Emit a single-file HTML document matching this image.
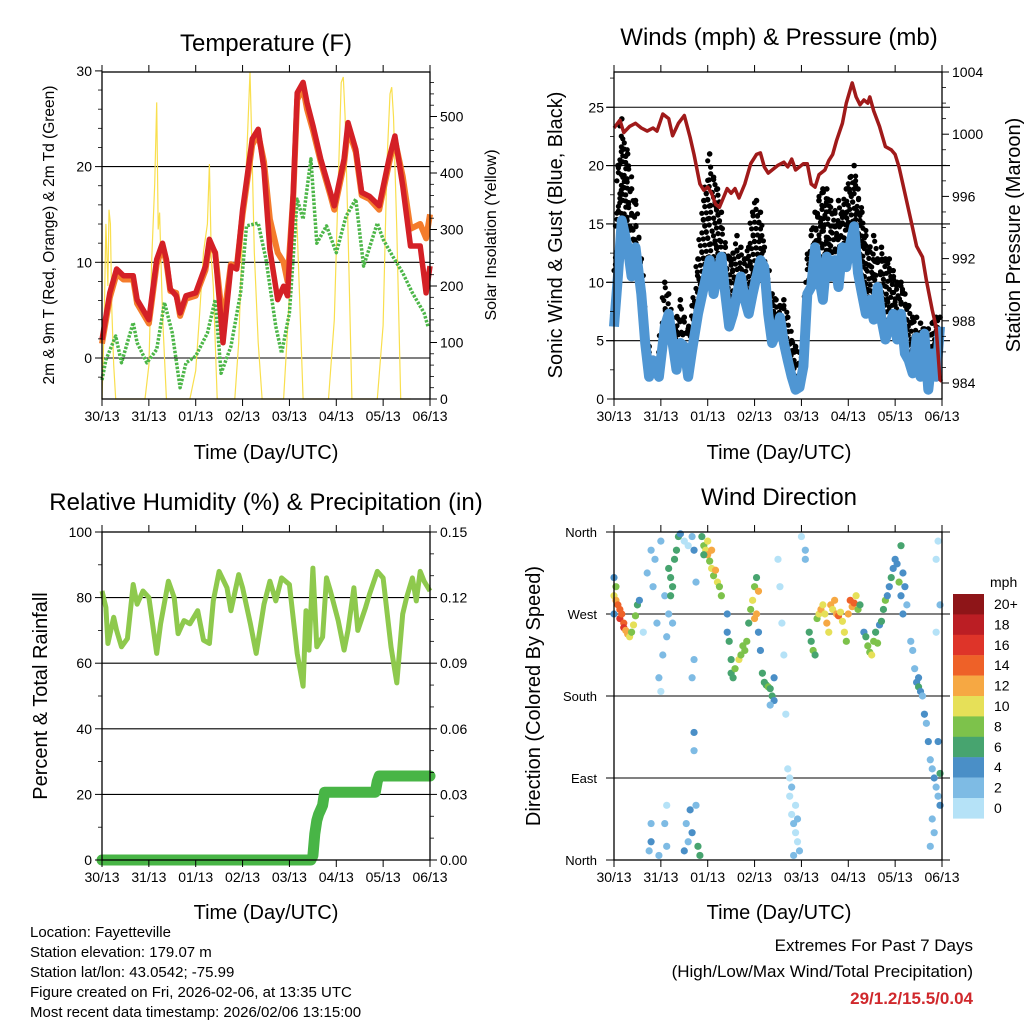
<!DOCTYPE html>
<html><head><meta charset="utf-8"><style>
html,body{margin:0;padding:0;background:#fff}
svg{display:block;font-family:"Liberation Sans",Arial,sans-serif}
</style></head><body>
<svg id="root" width="1024" height="1024" viewBox="0 0 1024 1024" xmlns="http://www.w3.org/2000/svg">
<rect x="0" y="0" width="1024" height="1024" fill="#fff"/>
<text x="266" y="51" font-size="24" text-anchor="middle">Temperature (F)</text>
<text x="779" y="45" font-size="24" text-anchor="middle">Winds (mph) &amp; Pressure (mb)</text>
<text x="266" y="510" font-size="24" text-anchor="middle">Relative Humidity (%) &amp; Precipitation (in)</text>
<text x="779" y="505" font-size="24" text-anchor="middle">Wind Direction</text>
<text x="266" y="459" font-size="20" text-anchor="middle">Time (Day/UTC)</text>
<text x="779" y="459" font-size="20" text-anchor="middle">Time (Day/UTC)</text>
<text x="266" y="919" font-size="20" text-anchor="middle">Time (Day/UTC)</text>
<text x="779" y="919" font-size="20" text-anchor="middle">Time (Day/UTC)</text>
<text transform="translate(54,235) rotate(-90)" font-size="15.5" text-anchor="middle">2m &amp; 9m T (Red, Orange) &amp; 2m Td (Green)</text>
<text transform="translate(496,235) rotate(-90)" font-size="16" text-anchor="middle">Solar Insolation (Yellow)</text>
<text transform="translate(562,235) rotate(-90)" font-size="20" text-anchor="middle">Sonic Wind &amp; Gust (Blue, Black)</text>
<text transform="translate(1020,235) rotate(-90)" font-size="20" text-anchor="middle">Station Pressure (Maroon)</text>
<text transform="translate(47,696) rotate(-90)" font-size="20" text-anchor="middle">Percent &amp; Total Rainfall</text>
<text transform="translate(540,696) rotate(-90)" font-size="20" text-anchor="middle">Direction (Colored By Speed)</text>
<g font-size="15">
<text x="30" y="937">Location: Fayetteville</text>
<text x="30" y="957">Station elevation: 179.07 m</text>
<text x="30" y="977">Station lat/lon: 43.0542; -75.99</text>
<text x="30" y="997">Figure created on Fri, 2026-02-06, at 13:35 UTC</text>
<text x="30" y="1017">Most recent data timestamp: 2026/02/06 13:15:00</text>
</g>
<text x="973" y="951" font-size="17" text-anchor="end">Extremes For Past 7 Days</text>
<text x="973" y="977" font-size="17" text-anchor="end">(High/Low/Max Wind/Total Precipitation)</text>
<text x="973" y="1004" font-size="17" font-weight="bold" fill="#d0282c" text-anchor="end">29/1.2/15.5/0.04</text>
</svg>
<script>
// ---- Temperature panel data ----
const T_HOURS=[0,4,7.5,11,16,18,24,28,31,33,35,38,40,43,48,53,55,58,62,66,69,72,77,80,83,86,90,93,95,98,100,103,105,108,112,117,119,124,126,130,133,137,142,147,150,154,158,163,166,168];
const TEMP_RED=[1.9,6.8,9.3,8.6,8.6,6.1,4.0,10.3,12,10.3,7.2,6.5,4.7,6.5,6.8,9.6,12.4,11,1.6,9.6,9.3,15.5,22.9,23.9,19.7,11.3,6.1,7.5,6.5,17.3,27.7,28.8,26.7,24.3,20.8,17.3,15.9,20.8,24.6,21.8,17.3,16.9,15.9,20.8,23.2,18,11.7,11.7,6.8,9.6];
const TEMP_ORANGE=[1.5,6.3,8.8,8.2,8.2,5.7,3.6,9.8,11.6,10,7,6.8,4.4,6.2,6.5,9.2,12,11,3.5,9.8,9.5,15,22.3,23.4,20.5,14.5,11,10,8,17,27,28.2,26,23.8,20.5,17,15.5,20.3,24,21.5,17,16.6,15.5,20.3,22.8,19,13.5,14,12.5,15];
const DEW_HOURS=[0,2,7,10,16,18,23,28,32,36,40,43,48,54,58,61,66,71,74,80,84,89,92,96,100,103,107,110,115,120,125,130,134,141,144,149,154,159,165,167];
const DEW=[-2.3,-0.2,2.3,-0.5,3.7,1.6,-0.5,0.9,5.8,2.6,-3.1,-0.5,0.2,2.6,6.1,-1.6,1.2,6.8,13.8,14.1,10.3,3.3,0.5,4.7,16.6,14.5,20.8,12,13.8,11,14.8,16.6,9.6,14.1,12.4,10.6,8.9,6.8,4.7,3.3];
const SOLAR_HOURS=[0,1,2,3,3.6,4.3,5,6,7,8.5,22,24,25.5,27,28,28.8,29.5,31,33,45,48,50,52,54,55,56,57,59,68,70,72,74,75.8,76.6,78,80,82,93,95,97,98,98.9,100,101,103,116,119,121,122.5,123.6,124.5,126,128,141,144,146,147.5,148.4,149.3,151,153,158];
const SOLAR=[0,120,310,200,335,310,160,60,0,0,0,60,250,380,525,300,330,150,0,0,50,150,260,310,416,250,200,0,0,100,300,420,579,470,260,100,0,0,120,250,330,346,300,200,0,0,140,380,560,570,500,300,0,0,130,420,540,552,500,300,0,0];
// ---- Winds panel data ----
const WIND_HOURS=[0,2,4,7,9,11,14,16,18,20,23,26,28,30,32,34,36,38,40,43,46,49,51,53,55,57,59,61,63,65,67,69,71,73,75,77,79,81,83,85,87,89,91,93,95,97,99,101,103,105,107,109,111,113,115,117,119,121,123,125,127,129,131,133,135,137,139,141,143,145,147,149,151,153,155,157,159,161,163,165,167];
const WIND=[6.2,10.5,15.3,13,10.5,13,9,4.8,1.9,3.3,1.9,6.2,7.3,4.8,2.5,4.8,4.5,1.9,4.2,7.3,9.6,11.9,9,10.8,12.2,9,6.2,7.3,9,10.5,8.5,7.3,9,10.5,11.9,11.3,7.3,4.8,5.6,7,4.8,3.3,1.9,0.8,1,2.8,9,9.6,13,10.5,8.5,12.2,10.5,11.9,9.6,13,11.3,13.3,14.8,10.8,9,7.3,8.5,6.8,9.6,6.8,5.1,6.2,7.3,5.1,7.3,3.9,3.3,2.2,5.3,1.9,5.6,0.8,3.9,1.9,6.2];
const GUST=[8,20,24,21,18,17,12,6,4.5,3.5,4,10,9,6,7,8.5,7,6,8,12,17,21,19,18,16,13,12,12.5,14,13,12,13,16,17,16,13,11,9,8.5,8,8.5,7,5,4.5,4,5,12,14,16,17,18,18,17,16,17,16,18,19,20,18,16,14,13,14,12,13,12,12,11,10,10,9,8,7,7,6.5,6,6,6.5,7,7];
const PRES_HOURS=[0,3,5,8,11,14,17,20,22,25,28,30,33,36,39,41,44,46,48,50,52,54,56,58,60,62,64,67,70,73,75,77,79,81,84,87,89,91,93,95,97,99,101,103,105,108,110,112,114,117,119,122,124,126,128,130,131,133,136,139,142,144,146,149,152,155,158,160,163,165,167,168];
const PRES=[1000.4,1000.9,1000.1,1000.5,1000.7,1000.4,1000.2,1000.4,1000.2,1001.3,1001,999.9,1000.7,1001.2,999.8,998.7,996.8,996.4,996.6,996.2,995.5,995.3,995.9,996.5,996.2,996.5,995.9,996.8,998.1,998.7,998.8,997.9,997.5,997.7,998,998.2,997.9,998.4,997.7,997.9,998.1,998.1,996.8,996.6,997.4,997.7,998.3,998.7,999.6,1000.7,1002,1003.3,1002.4,1001.9,1002.2,1002,1002.4,1001.5,1000.5,999.2,999,998.7,997.9,996.2,994.5,992.8,992.1,990.6,988.7,987.6,984.2,984.1];
// ---- Humidity / precipitation data ----
const RH_HOURS=[0,2,3,6,7.5,10,13,16,18,21,24,28,30,34,37,39,42,45,49,52,55,57,60,64,66,70,72,76,79,83,86,89,92,96,100,103,104.5,106,108,110,113,115,117,121,124,126,129,131,135,137,141,144,148,151,154,156,159,161,163,165,168];
const RH=[82,77,66,74,70,65,67.5,84,78,82,80,63,72,85,80,69,73,72,76,67,66,79,88,83,76,87,83,72,63,78,85,79,86,84,63,53,76,64,89,65,68,86,82,73,64,70,83,70,77,81,88,86,65,54,75,80,86,79,88,85,82];
const PRCP_HOURS=[0,107,108,109,110,111,112,113,114,140,141,142,168];
const PRCP=[0,0,0.002,0.012,0.018,0.021,0.023,0.025,0.031,0.031,0.036,0.0384,0.0384];
// ---- Wind direction data ----
const DIR_HOURS=[0,1,1,2,3,3,4,5,5,6,7,8,9,10,11,12,13,0,0,15,17,19,20,21,22,23,24,25,26,24,19,18,19,23,27,26,27,28,29,30,31,32,33,28,29,27,30,34,36,38,40,41,42,41,41,41,40,38,37,39,40,36,43,44,42,45,46,47,48,49,50,51,52,53,54,55,48,50,46,58,58,59,60,60,61,62,64,65,66,67,68,69,70,71,72,73,74,73,72,74,75,76,77,78,79,80,81,82,82,80,84,85,86,87,88,89,90,90,91,92,93,94,95,91,93,94,92,96,98,98,100,101,102,103,104,105,106,107,108,109,110,111,112,113,114,115,116,117,118,119,120,121,122,123,124,125,126,128,129,130,131,132,133,134,135,136,137,138,139,140,141,142,143,144,145,146,147,147,148,149,150,148,152,153,154,155,156,157,158,159,156,160,161,162,163,164,165,166,167,167,163,164,162,166,165,165,166,167];
const DIR_DEG=[290,300,285,280,275,265,270,260,255,252,248,245,250,258,268,280,285,270,310,250,315,340,300,330,260,200,185,225,290,350,20,10,40,5,60,40,15,320,310,300,330,340,355,270,290,245,260,358,350,345,355,340,305,220,140,120,200,20,40,55,30,10,15,5,60,355,345,340,335,328,320,312,318,305,300,290,350,340,335,270,250,240,220,205,200,210,220,225,235,230,240,260,275,285,300,310,295,270,265,250,230,205,195,192,190,188,180,175,200,170,330,300,260,225,160,100,90,70,50,40,30,20,10,80,60,45,5,355,340,330,250,240,230,225,265,270,275,280,270,260,250,280,275,285,270,268,272,262,250,240,270,285,278,282,290,275,280,250,245,235,228,225,240,250,238,258,262,275,285,290,300,310,320,330,325,305,290,345,315,300,280,270,240,230,210,195,190,185,180,160,200,150,130,110,100,90,80,70,60,95,45,30,15,130,250,330,350,280];
const DIR_SPD=[10,8,12,14,15,16,15,14,16,13,12,11,9,10,8,6,4,4,4,1,2,2,2,2,2,2,1,2,2,3,4,3,2,2,1,2,2,6,7,6,6,7,6,2,6,2,3,4,1,1,3,4,3,3,4,2,2,3,3,4,4,4,6,6,2,6,8,10,12,9,10,8,12,10,9,8,11,13,6,4,5,6,6,6,6,8,10,8,8,9,8,7,8,10,8,7,12,13,12,4,4,6,6,7,8,6,6,4,4,3,1,1,1,1,1,1,1,1,1,2,1,1,2,2,1,3,3,1,3,3,7,7,8,6,8,10,12,11,10,12,10,13,11,12,12,14,11,10,11,9,12,14,13,15,11,8,6,4,6,8,8,10,8,6,8,4,6,6,8,4,4,6,4,4,4,8,5,6,4,4,2,4,2,2,2,4,6,4,3,4,4,2,4,2,3,4,2,3,4,6,2,3,2,4,1,1,1,2];
const DAY_LABELS=["30/13","31/13","01/13","02/13","03/13","04/13","05/13","06/13"];
const SPEED_LABELS=["20+","18","16","14","12","10","8","6","4","2","0"];
const SPEED_COLORS=["#8e1518","#bb1e24","#de3429","#ee6128","#f6a843","#e6e058","#7dc24b","#47a46f","#4a8fc7","#7ebbe4","#b5e2f7"];

const NS="http://www.w3.org/2000/svg";
const root=document.getElementById('root');
function mk(tag,parent,attrs){const e=document.createElementNS(NS,tag);for(const k in attrs)e.setAttribute(k,attrs[k]);parent.appendChild(e);return e;}
function grp(parent,name){const g=mk('g',parent,{});


return g;}
function path(xs,ys,fx,fy){let d='';for(let i=0;i<xs.length;i++){d+=(i?'L':'M')+fx(xs[i]).toFixed(1)+' '+fy(ys[i]).toFixed(1);}return d;}
function interp(xs,ys,h){if(h<=xs[0])return ys[0];for(let i=1;i<xs.length;i++){if(h<=xs[i]){const t=(h-xs[i-1])/(xs[i]-xs[i-1]);return ys[i-1]+t*(ys[i]-ys[i-1]);}}return ys[ys.length-1];}

const L1=102,R1=430,L2=614,R2=942,T1=72,B1=399,T2=532,B2=860;
const xT=h=>L1+h*(R1-L1)/168;
const xW=h=>L2+h*(R2-L2)/168;
const yTemp=v=>358-v*9.57;
const ySolar=v=>B1-v*0.565;
const yWind=v=>B1-v*11.67;
const yPres=v=>383-(v-984)*15.55;
const yRH=v=>B2-v*3.28;
const yPr=v=>B2-v*2186.7;
const yDir=v=>B2-v*328/360;

function frame(g,l,r,t,b,name){const f=mk('rect',g,{x:l,y:t,width:r-l,height:b-t,fill:'none',stroke:'#000','stroke-width':1.3});

}
function xTicks(g,l,r,t,b,fx){
 for(let i=0;i<8;i++){const x=fx(i*24);
  const tk=mk('line',g,{x1:x,y1:b,x2:x,y2:b+7,stroke:'#000','stroke-width':1});
  
  
  const tt=mk('line',g,{x1:x,y1:t,x2:x,y2:t-7,stroke:'#000','stroke-width':1});
  
  
  const lb=mk('text',g,{x:x,y:b+22,'font-size':14,'text-anchor':'middle'});lb.textContent=DAY_LABELS[i];
  
  }
}
function yTicks(g,vals,fy,x,side,labels,minor){
 vals.forEach((v,i)=>{const y=fy(v);const d=side<0?-7:7;
  const tk=mk('line',g,{x1:x,y1:y,x2:x+d,y2:y,stroke:'#000','stroke-width':1});
  
  
  const lb=mk('text',g,{x:side<0?x-10:x+10,y:y+5,'font-size':14,'text-anchor':side<0?'end':'start'});lb.textContent=labels[i];
  
  });
 (minor||[]).forEach(v=>{const y=fy(v);const d=side<0?-4:4;
  const tk=mk('line',g,{x1:x,y1:y,x2:x+d,y2:y,stroke:'#000','stroke-width':0.8});
  
  });
}
function hgrid(g,ys,l,r){ys.forEach(y=>{const ln=mk('line',g,{x1:l,y1:y,x2:r,y2:y,stroke:'#000','stroke-width':1.1});
 
 });}

// ===== Panel 1: Temperature =====
const p1=grp(root,'temperature-panel');
hgrid(p1,[0,10,20].map(yTemp),L1,R1);
const solar=mk('path',p1,{d:path(SOLAR_HOURS,SOLAR,xT,ySolar),fill:'none',stroke:'#f9df4e','stroke-width':1.2});


const dew=mk('path',p1,{d:path(DEW_HOURS,DEW,xT,yTemp),fill:'none',stroke:'#4cb648','stroke-width':3.5,'stroke-dasharray':'2.5 1.5','stroke-linejoin':'round'});


const org=mk('path',p1,{d:path(T_HOURS,TEMP_ORANGE,xT,yTemp),fill:'none',stroke:'#f47c2c','stroke-width':6,'stroke-linejoin':'round'});


const red=mk('path',p1,{d:path(T_HOURS,TEMP_RED,xT,yTemp),fill:'none',stroke:'#d42026','stroke-width':5.5,'stroke-linejoin':'round'});


frame(p1,L1,R1,T1,B1,'temperature-plot-frame');
xTicks(p1,L1,R1,T1,B1,xT);
yTicks(p1,[0,10,20,30],yTemp,L1,-1,['0','10','20','30'],[-2,2,4,6,8,12,14,16,18,22,24,26,28]);
yTicks(p1,[0,100,200,300,400,500],ySolar,R1,1,['0','100','200','300','400','500'],[20,40,60,80,120,140,160,180,220,240,260,280,320,340,360,380,420,440,460,480,520,540,560]);

// ===== Panel 2: Winds =====
const p2=grp(root,'winds-panel');
hgrid(p2,[5,10,15,20,25].map(yWind),L2-8,R2+8);
// gust scatter cloud: dots stacked between sustained wind and gust maximum
for(let h=0,k=0;h<=167.5;h+=0.75,k++){
 const w=interp(WIND_HOURS,WIND,h),g=interp(WIND_HOURS,GUST,h);
 for(let v=w+1,j=0;v<=g;v+=1.1,j++){
  const c=mk('circle',p2,{cx:(xW(h)+((j+k)%3-1)*1.5).toFixed(1),cy:yWind(v).toFixed(1),r:2.6,fill:'#000'});
  
  
 }
}
WIND_HOURS.forEach((h,i)=>{const c=mk('circle',p2,{cx:xW(h),cy:yWind(GUST[i]),r:2.8,fill:'#000'});
 
 });
const wl=mk('path',p2,{d:path(WIND_HOURS,WIND,xW,yWind),fill:'none',stroke:'#4f96d3','stroke-width':10,'stroke-linejoin':'round'});


const pl=mk('path',p2,{d:path(PRES_HOURS,PRES,xW,yPres),fill:'none',stroke:'#a01a1a','stroke-width':3.5,'stroke-linejoin':'round'});


frame(p2,L2,R2,T1,B1,'winds-plot-frame');
xTicks(p2,L2,R2,T1,B1,xW);
yTicks(p2,[0,5,10,15,20,25],yWind,L2,-1,['0','5','10','15','20','25'],[2.5,7.5,12.5,17.5,22.5,27.5]);
yTicks(p2,[984,988,992,996,1000,1004],yPres,R2,1,['984','988','992','996','1000','1004'],[985,986,987,989,990,991,993,994,995,997,998,999,1001,1002,1003]);

// ===== Panel 3: Humidity & Precip =====
const p3=grp(root,'humidity-panel');
hgrid(p3,[20,40,60,80].map(yRH),L1,R1);
const rl=mk('path',p3,{d:path(RH_HOURS,RH,xT,yRH),fill:'none',stroke:'#8ec94d','stroke-width':5,'stroke-linejoin':'round'});


const prl=mk('path',p3,{d:path(PRCP_HOURS,PRCP,xT,yPr),fill:'none',stroke:'#48b546','stroke-width':11,'stroke-linejoin':'round','stroke-linecap':'round'});


frame(p3,L1,R1,T2,B2,'humidity-plot-frame');
xTicks(p3,L1,R1,T2,B2,xT);
yTicks(p3,[0,20,40,60,80,100],yRH,L1,-1,['0','20','40','60','80','100'],[10,30,50,70,90]);
yTicks(p3,[0,0.03,0.06,0.09,0.12,0.15],yPr,R1,1,['0.00','0.03','0.06','0.09','0.12','0.15'],[0.01,0.02,0.04,0.05,0.07,0.08,0.1,0.11,0.13,0.14]);

// ===== Panel 4: Wind Direction =====
const p4=grp(root,'wind-direction-panel');
hgrid(p4,[0,90,180,270,360].map(yDir),L2-8,R2+8);
function spdColor(s){let idx=Math.min(10,Math.floor(s/2));return SPEED_COLORS[10-idx];}
DIR_HOURS.forEach((h,i)=>{const c=mk('circle',p4,{cx:xW(h),cy:yDir(DIR_DEG[i]),r:3.6,fill:spdColor(DIR_SPD[i])});
 
 });
frame(p4,L2,R2,T2,B2,'direction-plot-frame');
xTicks(p4,L2,R2,T2,B2,xW);
['North','East','South','West','North'].forEach((lab,i)=>{const y=yDir(i*90);
 const lb=mk('text',p4,{x:L2-17,y:y+5,'font-size':13,'text-anchor':'end'});lb.textContent=lab;
 
 });
const cb=grp(root,'speed-colorbar');
const cbu=mk('text',cb,{x:990,y:587,'font-size':14});cbu.textContent='mph';


SPEED_LABELS.forEach((lab,i)=>{const y=594+i*20.4;
 const r=mk('rect',cb,{x:953,y:y,width:31,height:20.6,fill:SPEED_COLORS[i]});
 
 
 const t=mk('text',cb,{x:994,y:y+15,'font-size':14});t.textContent=lab;
 
 });
</script>
</body></html>
